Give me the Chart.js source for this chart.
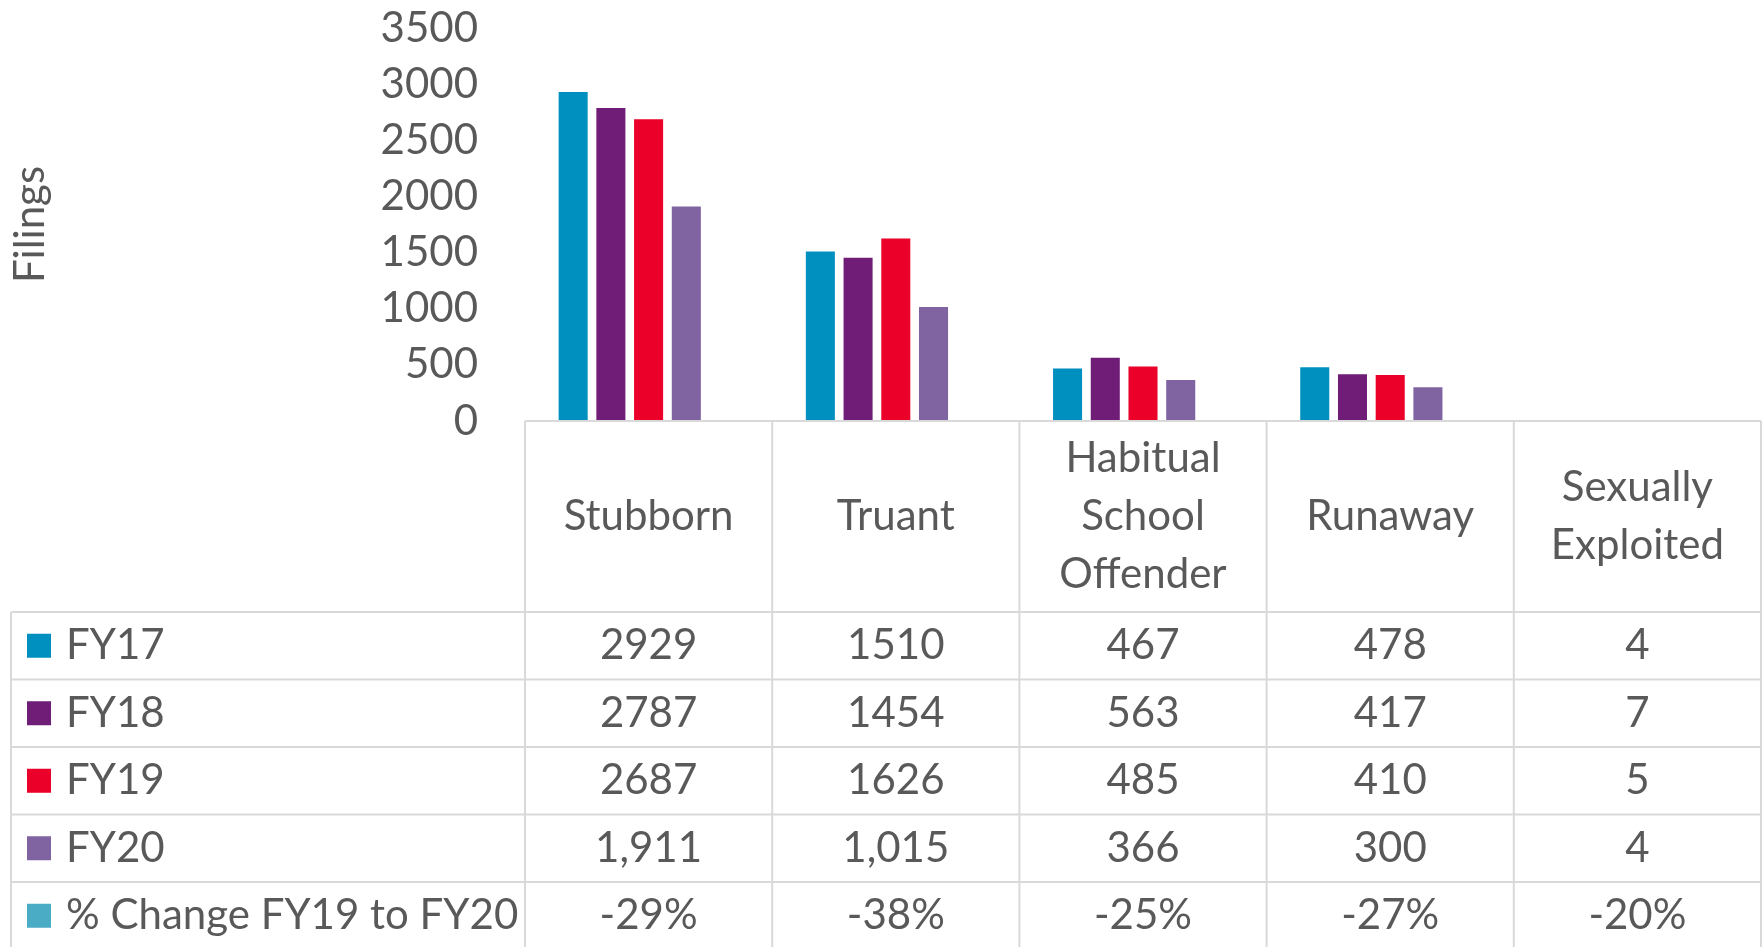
<!DOCTYPE html>
<html>
<head>
<meta charset="utf-8">
<script src="https://cdn.jsdelivr.net/npm/chart.js@4/dist/chart.umd.min.js"></script>
<style>
html, body { margin: 0; padding: 0; background: #fff; }
#wrap { width: 1762px; height: 947px; }
</style>
</head>
<body>
<div id="wrap"><canvas id="chart"></canvas></div>
<script>
// data
const categories = ['Stubborn', 'Truant', ['Habitual', 'School', 'Offender'], 'Runaway', ['Sexually', 'Exploited']];
const seriesNames = ['FY17', 'FY18', 'FY19', 'FY20', '% Change FY19 to FY20'];
const fy17 = [2929, 1510, 467, 478, 4];
const fy18 = [2787, 1454, 563, 417, 7];
const fy19 = [2687, 1626, 485, 410, 5];
const fy20 = [1911, 1015, 366, 300, 4];
const pctChange = [-0.29, -0.38, -0.25, -0.27, -0.20];
const yTicks = [0, 500, 1000, 1500, 2000, 2500, 3000, 3500];

const colors = ['#0090c0', '#6f1d77', '#ea0029', '#8064a2', '#4bacc6'];
const textColor = '#595959';
const gridColor = '#d9d9d9';
const fontFamily = 'Lato, "Open Sans", sans-serif';
const fontSize = 42;

function fmtCell(row, v) {
  if (row === 4) return Math.round(v * 100) + '%';
  if (row === 3) return v.toLocaleString('en-US');
  return String(v);
}

// Excel-style data table under the plot, laid out on the x scale
const dataTable = {
  id: 'dataTable',
  afterDraw(chart) {
    const ctx = chart.ctx;
    const xs = chart.scales.x;
    const area = chart.chartArea;
    const n = categories.length;
    const colW = (area.right - area.left) / n;
    const top = area.bottom;
    const headH = 191;
    const rowH = 67.5;
    const legendLeft = 11;
    const H = chart.height + 10;
    ctx.save();
    ctx.strokeStyle = gridColor;
    ctx.lineWidth = 2;
    const line = (x0, y0, x1, y1) => { ctx.beginPath(); ctx.moveTo(x0, y0); ctx.lineTo(x1, y1); ctx.stroke(); };
    line(area.left, top, area.right, top);
    for (let i = 0; i <= n; i++) {
      const xx = xs.getPixelForValue(0) - colW / 2 + i * colW;
      line(xx, top, xx, H);
    }
    line(legendLeft, top + headH, legendLeft, H);
    for (let r = 0; r < 5; r++) {
      const y = top + headH + r * rowH;
      line(legendLeft, y, area.right, y);
    }

    ctx.fillStyle = textColor;
    ctx.font = fontSize + 'px ' + fontFamily;
    ctx.textBaseline = 'middle';
    ctx.textAlign = 'center';
    const headMid = top + headH / 2;
    categories.forEach((c, i) => {
      const lines = Array.isArray(c) ? c : [c];
      const cx = xs.getPixelForValue(i);
      lines.forEach((t, k) => {
        ctx.fillText(t, cx, headMid + (k - (lines.length - 1) / 2) * 58);
      });
    });

    chart.data.datasets.forEach((ds, r) => {
      const cy = top + headH + r * rowH + rowH / 2;
      ctx.fillStyle = ds.backgroundColor;
      ctx.fillRect(27, cy - 12, 24, 24);
      ctx.fillStyle = textColor;
      ctx.textAlign = 'left';
      ctx.fillText(ds.label, 66, cy);
      ctx.textAlign = 'center';
      ds.data.forEach((v, i) => {
        ctx.fillText(fmtCell(r, v), xs.getPixelForValue(i), cy);
      });
    });
    ctx.restore();
  }
};

const allSeries = [fy17, fy18, fy19, fy20, pctChange];

new Chart(document.getElementById('chart'), {
  type: 'bar',
  data: {
    labels: categories,
    datasets: allSeries.map((d, i) => ({
      label: seriesNames[i],
      data: d,
      backgroundColor: colors[i],
      categoryPercentage: 0.763,
      barPercentage: 0.77
    }))
  },
  options: {
    responsive: true,
    maintainAspectRatio: false,
    animation: false,
    layout: { padding: { top: 28, right: 1, bottom: 526, left: 0 } },
    plugins: {
      legend: { display: false },
      tooltip: { enabled: false }
    },
    scales: {
      x: {
        display: false
      },
      y: {
        min: 0,
        max: 3500,
        afterBuildTicks: s => { s.ticks = yTicks.map(v => ({ value: v })); },
        afterFit: s => { s.width = 525; s.paddingTop = 0; s.paddingBottom = 0; },
        grid: { display: false, drawTicks: false },
        border: { display: false },
        ticks: {
          color: textColor,
          padding: 47,
          autoSkip: false,
          callback: v => String(v),
          font: { family: fontFamily, size: fontSize }
        },
        title: {
          display: true,
          text: 'Filings',
          color: textColor,
          padding: { top: 5, bottom: 0 },
          font: { family: fontFamily, size: fontSize }
        }
      }
    }
  },
  plugins: [dataTable]
});
</script>
</body>
</html>
